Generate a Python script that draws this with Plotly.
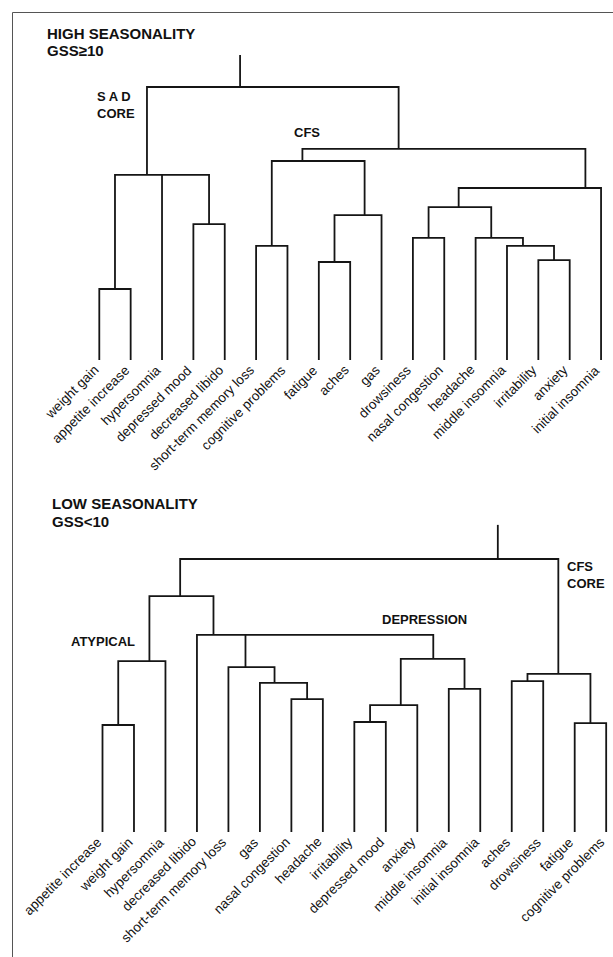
import plotly.graph_objects as go

# ---------------- High seasonality group (GSS >= 10) ----------------
high_leaves = [
    "weight gain", "appetite increase", "hypersomnia", "depressed mood",
    "decreased libido", "short-term memory loss", "cognitive problems",
    "fatigue", "aches", "gas", "drowsiness", "nasal congestion", "headache",
    "middle insomnia", "irritability", "anxiety", "initial insomnia",
]
high_ids = ["A", "B", "SAD", "C", "D", "E", "F", "G", "H", "I", "J", "K", "L", "CFS", "ROOT"]
high_children = [
    ["weight gain", "appetite increase"],
    ["depressed mood", "decreased libido"],
    ["A", "hypersomnia", "B"],
    ["short-term memory loss", "cognitive problems"],
    ["fatigue", "aches"],
    ["D", "gas"],
    ["C", "E"],
    ["drowsiness", "nasal congestion"],
    ["irritability", "anxiety"],
    ["middle insomnia", "H"],
    ["headache", "I"],
    ["G", "J"],
    ["K", "initial insomnia"],
    ["F", "L"],
    ["SAD", "CFS"],
]
# linkage distance of each merge (root = 100)
high_heights = [26.0, 49.8, 67.8, 41.8, 35.9, 53.1, 72.9, 44.7, 36.6, 41.8, 44.7, 56.0, 63.0, 77.3, 100.0]
high_top = 111.7

# ---------------- Low seasonality group (GSS < 10) ----------------
low_leaves = [
    "appetite increase", "weight gain", "hypersomnia", "decreased libido",
    "short-term memory loss", "gas", "nasal congestion", "headache",
    "irritability", "depressed mood", "anxiety", "middle insomnia",
    "initial insomnia", "aches", "drowsiness", "fatigue", "cognitive problems",
]
low_ids = ["a", "b", "c", "d", "e", "f", "g", "h", "i", "j", "k", "l", "m", "n", "root"]
low_children = [
    ["appetite increase", "weight gain"],
    ["a", "hypersomnia"],
    ["nasal congestion", "headache"],
    ["gas", "c"],
    ["short-term memory loss", "d"],
    ["irritability", "depressed mood"],
    ["f", "anxiety"],
    ["middle insomnia", "initial insomnia"],
    ["g", "h"],
    ["decreased libido", "e", "i"],
    ["b", "j"],
    ["aches", "drowsiness"],
    ["fatigue", "cognitive problems"],
    ["l", "m"],
    ["k", "n"],
]
low_heights = [39.2, 62.6, 48.7, 54.6, 60.4, 40.3, 46.5, 52.4, 63.4, 72.2, 86.4, 55.3, 39.9, 57.9, 100.0]
low_top = 112.5

# ---------------- drawing style ----------------
# where each parent stem leaves its connecting bar (0 = left end, 1 = right end)
high_stem = [0.5, 0.5, 0.34, 0.5, 0.5, 0.64, 0.33, 0.5, 0.5, 0.34, 0.33, 0.48, 0.89, 0.34, 0.37]
low_stem = [0.5, 0.66, 0.5, 0.31, 0.37, 0.5, 0.65, 0.5, 0.51, 0.07, 0.48, 0.5, 0.5, 0.49, 0.84]

W, H = 613, 957
FONT = "Liberation Sans, Arial, Helvetica, sans-serif"
LINE = dict(color="#151515", width=1.8)


def tree_lines(leaves, ids, children, heights, stems, top):
    xpos = {name: float(i) for i, name in enumerate(leaves)}
    hpos = {name: 0.0 for name in leaves}
    xs, ys = [], []
    for cid, kids, h, f in zip(ids, children, heights, stems):
        ordered = sorted(kids, key=lambda k: xpos[k])
        left, right = ordered[0], ordered[-1]
        # U-shaped connector between the outermost children
        xs += [xpos[left], xpos[left], xpos[right], xpos[right], None]
        ys += [hpos[left], h, h, hpos[right], None]
        for k in ordered[1:-1]:
            xs += [xpos[k], xpos[k], None]
            ys += [hpos[k], h, None]
        xpos[cid] = xpos[left] + f * (xpos[right] - xpos[left])
        hpos[cid] = h
    root = ids[-1]
    xs += [xpos[root], xpos[root], None]
    ys += [hpos[root], top, None]
    return xs, ys


fig = go.Figure()

hx, hy = tree_lines(high_leaves, high_ids, high_children, high_heights, high_stem, high_top)
fig.add_trace(go.Scatter(x=hx, y=hy, mode="lines", line=LINE, xaxis="x", yaxis="y",
                         hoverinfo="skip", showlegend=False))
lx, ly = tree_lines(low_leaves, low_ids, low_children, low_heights, low_stem, low_top)
fig.add_trace(go.Scatter(x=lx, y=ly, mode="lines", line=LINE, xaxis="x2", yaxis="y2",
                         hoverinfo="skip", showlegend=False))

annotations = []


def leaf_labels(leaves, xref, yref):
    for i, name in enumerate(leaves):
        annotations.append(dict(
            x=i, y=0, xref=xref, yref=yref, text=name, showarrow=False,
            textangle=-45, xanchor="right", yanchor="top",
            xshift=3, yshift=-1, borderpad=0,
            font=dict(family=FONT, size=13.5, color="#111"),
        ))


leaf_labels(high_leaves, "x", "y")
leaf_labels(low_leaves, "x2", "y2")

BOLD = dict(family=FONT, size=13, color="#111")
TITLE = dict(family=FONT, size=15, color="#111")


def bold_label(text, x, y, xref, yref, font=BOLD):
    annotations.append(dict(
        x=x, y=y, xref=xref, yref=yref, text="<b>" + text + "</b>", showarrow=False,
        xanchor="left", yanchor="middle", align="left", borderpad=0, font=font,
    ))


# group titles
bold_label("HIGH SEASONALITY", 46 / W, 1 - 33.5 / H, "paper", "paper", TITLE)
bold_label("GSS≥10", 46 / W, 1 - 50.5 / H, "paper", "paper", TITLE)
bold_label("LOW SEASONALITY", 51 / W, 1 - 503 / H, "paper", "paper", TITLE)
bold_label("GSS&lt;10", 51 / W, 1 - 521.5 / H, "paper", "paper", TITLE)

# cluster names
bold_label("S A D<br>CORE", -0.11, 93.4, "x", "y")
bold_label("CFS", 6.19, 83.2, "x", "y")
bold_label("CFS<br>CORE", 14.72, 94.1, "x2", "y2")
bold_label("DEPRESSION", 8.86, 77.7, "x2", "y2")
bold_label("ATYPICAL", -1.045, 69.6, "x2", "y2")

# frame (top and left edges)
frame_x = 12.5 / W
frame_y = 1 - 12.5 / H
shapes = [dict(type="path", xref="paper", yref="paper",
               path=f"M {frame_x},0 L {frame_x},{frame_y} L 1.01,{frame_y}",
               line=dict(color="#555", width=1))]

# pixel geometry: leaves evenly spaced, 2.73 px per distance unit
hi_x0, hi_dx, hi_base = 99.3, 31.36, 360.0
lo_x0, lo_dx, lo_base = 102.5, 31.48, 832.0
PX_PER_UNIT = 2.73

axis_common = dict(visible=False, showgrid=False, zeroline=False, fixedrange=True, domain=[0, 1])
fig.update_layout(
    width=W, height=H, autosize=False,
    margin=dict(l=0, r=0, t=0, b=0, pad=0),
    paper_bgcolor="white", plot_bgcolor="white",
    xaxis=dict(range=[-hi_x0 / hi_dx, (W - hi_x0) / hi_dx], anchor="y", **axis_common),
    yaxis=dict(range=[-(H - hi_base) / PX_PER_UNIT, hi_base / PX_PER_UNIT], anchor="x", **axis_common),
    xaxis2=dict(range=[-lo_x0 / lo_dx, (W - lo_x0) / lo_dx], anchor="y2", overlaying="x", **axis_common),
    yaxis2=dict(range=[-(H - lo_base) / PX_PER_UNIT, lo_base / PX_PER_UNIT], anchor="x2", overlaying="y", **axis_common),
    annotations=annotations,
    shapes=shapes,
    showlegend=False,
)

fig.write_html("out.html")
